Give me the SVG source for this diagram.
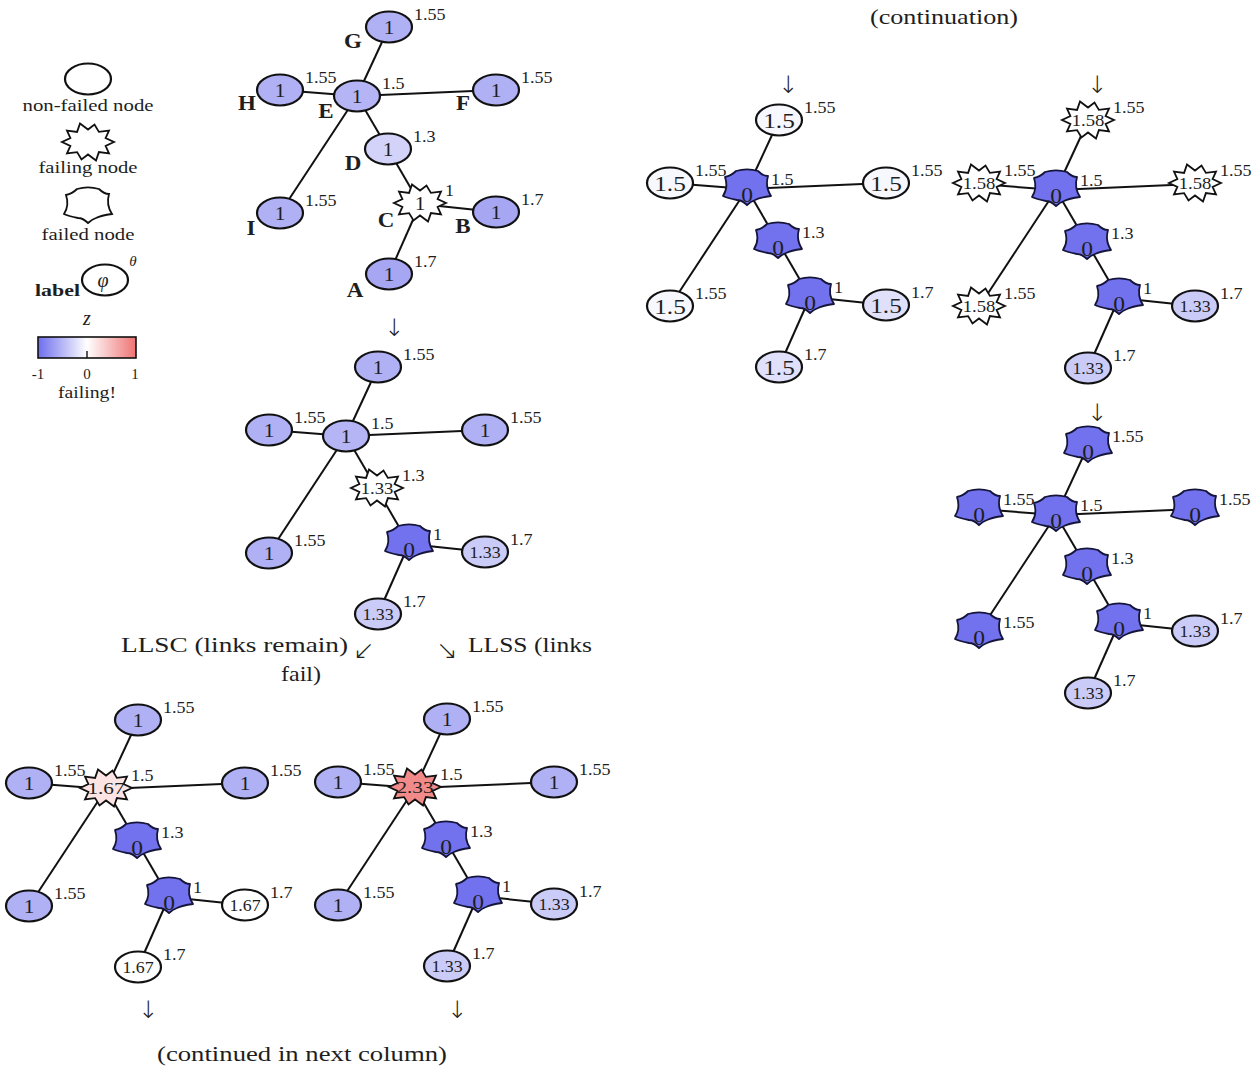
<svg xmlns="http://www.w3.org/2000/svg" xmlns:xlink="http://www.w3.org/1999/xlink" width="1260" height="1071" viewBox="0 0 1260 1071">
<style>
text { font-family: "Liberation Serif", "DejaVu Serif", serif; fill: #1e1e1e; }
.v, .v0, .v2, .v4, .vs { text-anchor: middle; transform-box: fill-box; transform-origin: 50% 50%; }
.v { font-size: 19px; transform: scaleX(1.12); }
.v0 { font-size: 21px; transform: scaleX(1.12); }
.v2 { font-size: 22px; transform: scaleX(1.15); }
.v4 { font-size: 17px; transform: scaleX(1.05); }
.vs { font-size: 17px; transform: scaleX(1.1); }
.vw { transform: scaleX(1.25); }
.t { font-size: 16px; transform-box: fill-box; transform-origin: 0 50%; transform: scaleX(1.13); }
.lb { font-size: 20px; font-weight: bold; text-anchor: middle; transform-box: fill-box; transform-origin: 50% 50%; transform: scaleX(1.15); }
.cap { font-size: 22px; }
.lg { font-size: 17px; text-anchor: middle; }
.arr { font-family: "DejaVu Sans", sans-serif; font-size: 24px; text-anchor: middle; font-weight: 200; fill: #222; }
.arr2 { font-family: "DejaVu Sans", sans-serif; font-size: 26px; font-weight: 200; fill: #222; }
.it { font-style: italic; }
.edges line { stroke: #111; stroke-width: 2; }
.nd { stroke: #111; stroke-width: 2.2; }
.sb { stroke: #111; stroke-width: 1.8; stroke-linejoin: miter; }
.fd { stroke: #15153a; stroke-width: 1.8; fill: #7272ee; stroke-linejoin: round; }
.w { fill: #ffffff; }
.f155 { fill: #b0b0f4; }
.f15 { fill: #b5b5f5; }
.f13 { fill: #d3d3f9; }
.f17 { fill: #a6a6f3; }
.f133 { fill: #cbcbf8; }
.f1517 { fill: #e0e0fb; }
.f15155 { fill: #f7f7fe; }
.fpink { fill: #fce4e4; }
.fred { fill: #f28a8a; }
</style>
<defs>
<ellipse id="ell" cx="0" cy="0" rx="23" ry="15.5"/>
<path id="star" d="M26,-1 L17.6,2.9 L21,10.5 L10.9,9.1 L8,17.5 L0,11.5 L-6.5,16.5 L-10.9,9.1 L-21,10.5 L-17.6,2.9 L-26,-1 L-17.6,-4.9 L-21,-12.5 L-10.9,-11.1 L-8,-19.5 L0,-13.5 L6.5,-18.5 L10.9,-11.1 L21,-12.5 L17.6,-4.9 Z"/>
<path id="fail" d="M-22,-12 C-17,-13 -14,-15 -11,-18 C-4,-20 4,-20 11,-18 C14,-15 17,-13 21,-13 C19,-6 20,1 24,7 C17,8 12,9 8,11 C5,12 2,14 0,16 C-3,13 -7,11 -10,11 C-15,10 -20,9 -24,7 C-20,1 -20,-6 -22,-12 Z"/>
<linearGradient id="cbar" x1="0" y1="0" x2="1" y2="0">
<stop offset="0" stop-color="#6e6eee"/>
<stop offset="0.5" stop-color="#ffffff"/>
<stop offset="1" stop-color="#ef7373"/>
</linearGradient>
</defs>
<rect x="0" y="0" width="1260" height="1071" fill="#ffffff"/>

<!-- legend -->
<g id="legend">
<g id="leg-nonfailed">
<ellipse cx="88" cy="79" rx="23" ry="15.5" class="nd w"/>
<text class="lg" x="88" y="111" textLength="131" lengthAdjust="spacingAndGlyphs">non-failed node</text>
</g>
<g id="leg-failing">
<use href="#star" x="88" y="143" class="sb w"/>
<text class="lg" x="88" y="173" textLength="99" lengthAdjust="spacingAndGlyphs">failing node</text>
</g>
<g id="leg-failed">
<use href="#fail" x="88" y="207" class="sb w"/>
<text class="lg" x="88" y="240" textLength="93" lengthAdjust="spacingAndGlyphs">failed node</text>
</g>
<g id="leg-label">
<ellipse cx="105" cy="280" rx="23" ry="15.5" class="nd w"/>
<text x="35" y="296" style="font-size:17px;font-weight:bold" textLength="45" lengthAdjust="spacingAndGlyphs">label</text>
<text class="it" x="103" y="287" style="font-size:20px" text-anchor="middle">φ</text>
<text class="it" x="133" y="266" style="font-size:15px" text-anchor="middle">θ</text>
</g>
<g id="leg-colorbar">
<text class="it" x="87" y="325" style="font-size:20px" text-anchor="middle">z</text>
<rect x="38" y="337" width="98" height="21" fill="url(#cbar)" stroke="#111" stroke-width="1.6"/>
<line x1="87" y1="351" x2="87" y2="358" stroke="#111" stroke-width="1.4"/>
<text x="38" y="379" style="font-size:15px" text-anchor="middle">-1</text>
<text x="87" y="379" style="font-size:15px" text-anchor="middle">0</text>
<text x="135" y="379" style="font-size:15px" text-anchor="middle">1</text>
<text class="lg" x="87" y="398" textLength="58" lengthAdjust="spacingAndGlyphs">failing!</text>
</g>
</g>

<!-- captions and arrows -->
<g id="captions">
<text class="cap" x="944" y="24" text-anchor="middle" textLength="148" lengthAdjust="spacingAndGlyphs">(continuation)</text>
<text class="cap" x="121" y="652" textLength="227" lengthAdjust="spacingAndGlyphs">LLSC (links remain)</text>
<text class="arr2" x="353" y="659">↙</text>
<text class="cap" x="301" y="681" text-anchor="middle" textLength="40" lengthAdjust="spacingAndGlyphs">fail)</text>
<text class="arr2" x="436" y="659">↘</text>
<text class="cap" x="468" y="652" textLength="124" lengthAdjust="spacingAndGlyphs">LLSS (links</text>
<text class="cap" x="157" y="1061" textLength="290" lengthAdjust="spacingAndGlyphs">(continued in next column)</text>
<text class="arr" x="394" y="336">↓</text>
<text class="arr" x="788" y="93">↓</text>
<text class="arr" x="1097" y="93">↓</text>
<text class="arr" x="1097" y="421">↓</text>
<text class="arr" x="148" y="1018">↓</text>
<text class="arr" x="457" y="1018">↓</text>
</g>

<!-- connectors -->
<g id="connectors" class="edges">
<g transform="translate(357,96)">
<line x1="0" y1="0" x2="32" y2="-69"/><line x1="0" y1="0" x2="-77" y2="-6"/><line x1="0" y1="0" x2="139" y2="-6"/><line x1="0" y1="0" x2="-77" y2="117"/><line x1="0" y1="0" x2="31" y2="53"/><line x1="31" y1="53" x2="63" y2="108"/><line x1="63" y1="108" x2="139" y2="116"/><line x1="63" y1="108" x2="32" y2="178"/>
</g>
<g transform="translate(346,436)">
<line x1="0" y1="0" x2="32" y2="-69"/><line x1="0" y1="0" x2="-77" y2="-6"/><line x1="0" y1="0" x2="139" y2="-6"/><line x1="0" y1="0" x2="-77" y2="117"/><line x1="0" y1="0" x2="31" y2="53"/><line x1="31" y1="53" x2="63" y2="108"/><line x1="63" y1="108" x2="139" y2="116"/><line x1="63" y1="108" x2="32" y2="178"/>
</g>
<g transform="translate(106,789)">
<line x1="0" y1="0" x2="32" y2="-69"/><line x1="0" y1="0" x2="-77" y2="-6"/><line x1="0" y1="0" x2="139" y2="-6"/><line x1="0" y1="0" x2="-77" y2="117"/><line x1="0" y1="0" x2="31" y2="53"/><line x1="31" y1="53" x2="63" y2="108"/><line x1="63" y1="108" x2="139" y2="116"/><line x1="63" y1="108" x2="32" y2="178"/>
</g>
<g transform="translate(415,788)">
<line x1="0" y1="0" x2="32" y2="-69"/><line x1="0" y1="0" x2="-77" y2="-6"/><line x1="0" y1="0" x2="139" y2="-6"/><line x1="0" y1="0" x2="-77" y2="117"/><line x1="0" y1="0" x2="31" y2="53"/><line x1="31" y1="53" x2="63" y2="108"/><line x1="63" y1="108" x2="139" y2="116"/><line x1="63" y1="108" x2="32" y2="178"/>
</g>
<g transform="translate(747,189)">
<line x1="0" y1="0" x2="32" y2="-69"/><line x1="0" y1="0" x2="-77" y2="-6"/><line x1="0" y1="0" x2="139" y2="-6"/><line x1="0" y1="0" x2="-77" y2="117"/><line x1="0" y1="0" x2="31" y2="53"/><line x1="31" y1="53" x2="63" y2="108"/><line x1="63" y1="108" x2="139" y2="116"/><line x1="63" y1="108" x2="32" y2="178"/>
</g>
<g transform="translate(1056,190)">
<line x1="0" y1="0" x2="32" y2="-69"/><line x1="0" y1="0" x2="-77" y2="-6"/><line x1="0" y1="0" x2="139" y2="-6"/><line x1="0" y1="0" x2="-77" y2="117"/><line x1="0" y1="0" x2="31" y2="53"/><line x1="31" y1="53" x2="63" y2="108"/><line x1="63" y1="108" x2="139" y2="116"/><line x1="63" y1="108" x2="32" y2="178"/>
</g>
<g transform="translate(1056,515)">
<line x1="0" y1="0" x2="32" y2="-69"/><line x1="0" y1="0" x2="-77" y2="-6"/><line x1="0" y1="0" x2="139" y2="-6"/><line x1="0" y1="0" x2="-77" y2="117"/><line x1="0" y1="0" x2="31" y2="53"/><line x1="31" y1="53" x2="63" y2="108"/><line x1="63" y1="108" x2="139" y2="116"/><line x1="63" y1="108" x2="32" y2="178"/>
</g>
</g>

<!-- graph 1 -->
<g id="graph1" transform="translate(357,96)">
<g id="g1-G" transform="translate(32,-69)"><use href="#ell" class="nd f155"/><text class="v" y="6.5">1</text><text class="t" x="25" y="-7">1.55</text><text class="lb" x="-36" y="21">G</text></g>
<g id="g1-H" transform="translate(-77,-6)"><use href="#ell" class="nd f155"/><text class="v" y="6.5">1</text><text class="t" x="25" y="-7">1.55</text><text class="lb" x="-33" y="20">H</text></g>
<g id="g1-E" transform="translate(0,0)"><use href="#ell" class="nd f15"/><text class="v" y="6.5">1</text><text class="t" x="25" y="-7">1.5</text><text class="lb" x="-31" y="22">E</text></g>
<g id="g1-F" transform="translate(139,-6)"><use href="#ell" class="nd f155"/><text class="v" y="6.5">1</text><text class="t" x="25" y="-7">1.55</text><text class="lb" x="-33" y="20">F</text></g>
<g id="g1-D" transform="translate(31,53)"><use href="#ell" class="nd f13"/><text class="v" y="6.5">1</text><text class="t" x="25" y="-7">1.3</text><text class="lb" x="-35" y="21">D</text></g>
<g id="g1-C" transform="translate(63,108)"><use href="#star" class="sb w"/><text class="v" y="5.5">1</text><text class="t" x="25" y="-8">1</text><text class="lb" x="-34" y="23">C</text></g>
<g id="g1-B" transform="translate(139,116)"><use href="#ell" class="nd f17"/><text class="v" y="6.5">1</text><text class="t" x="25" y="-7">1.7</text><text class="lb" x="-33" y="21">B</text></g>
<g id="g1-I" transform="translate(-77,117)"><use href="#ell" class="nd f155"/><text class="v" y="6.5">1</text><text class="t" x="25" y="-7">1.55</text><text class="lb" x="-29" y="22">I</text></g>
<g id="g1-A" transform="translate(32,178)"><use href="#ell" class="nd f17"/><text class="v" y="6.5">1</text><text class="t" x="25" y="-7">1.7</text><text class="lb" x="-34" y="23">A</text></g>
</g>

<!-- graph 2 -->
<g id="graph2" transform="translate(346,436)">
<g id="g2-G" transform="translate(32,-69)"><use href="#ell" class="nd f155"/><text class="v" y="6.5">1</text><text class="t" x="25" y="-7">1.55</text></g>
<g id="g2-H" transform="translate(-77,-6)"><use href="#ell" class="nd f155"/><text class="v" y="6.5">1</text><text class="t" x="25" y="-7">1.55</text></g>
<g id="g2-E" transform="translate(0,0)"><use href="#ell" class="nd f15"/><text class="v" y="6.5">1</text><text class="t" x="25" y="-7">1.5</text></g>
<g id="g2-F" transform="translate(139,-6)"><use href="#ell" class="nd f155"/><text class="v" y="6.5">1</text><text class="t" x="25" y="-7">1.55</text></g>
<g id="g2-D" transform="translate(31,53)"><use href="#star" class="sb w"/><text class="vs" y="5">1.33</text><text class="t" x="25" y="-8">1.3</text></g>
<g id="g2-C" transform="translate(63,108)"><use href="#fail" class="fd"/><text class="v0" y="13">0</text><text class="t" x="24" y="-4">1</text></g>
<g id="g2-B" transform="translate(139,116)"><use href="#ell" class="nd f133"/><text class="v4" y="6">1.33</text><text class="t" x="25" y="-7">1.7</text></g>
<g id="g2-I" transform="translate(-77,117)"><use href="#ell" class="nd f155"/><text class="v" y="6.5">1</text><text class="t" x="25" y="-7">1.55</text></g>
<g id="g2-A" transform="translate(32,178)"><use href="#ell" class="nd f133"/><text class="v4" y="6">1.33</text><text class="t" x="25" y="-7">1.7</text></g>
</g>

<!-- graph 3 (LLSC) -->
<g id="graph3" transform="translate(106,789)">
<g id="g3-G" transform="translate(32,-69)"><use href="#ell" class="nd f155"/><text class="v" y="6.5">1</text><text class="t" x="25" y="-7">1.55</text></g>
<g id="g3-H" transform="translate(-77,-6)"><use href="#ell" class="nd f155"/><text class="v" y="6.5">1</text><text class="t" x="25" y="-7">1.55</text></g>
<g id="g3-E" transform="translate(0,0)"><use href="#star" class="sb fpink"/><text class="vs vw" y="5">1.67</text><text class="t" x="25" y="-8">1.5</text></g>
<g id="g3-F" transform="translate(139,-6)"><use href="#ell" class="nd f155"/><text class="v" y="6.5">1</text><text class="t" x="25" y="-7">1.55</text></g>
<g id="g3-D" transform="translate(31,53)"><use href="#fail" class="fd"/><text class="v0" y="13">0</text><text class="t" x="24" y="-4">1.3</text></g>
<g id="g3-C" transform="translate(63,108)"><use href="#fail" class="fd"/><text class="v0" y="13">0</text><text class="t" x="24" y="-4">1</text></g>
<g id="g3-B" transform="translate(139,116)"><use href="#ell" class="nd w"/><text class="v4" y="6">1.67</text><text class="t" x="25" y="-7">1.7</text></g>
<g id="g3-I" transform="translate(-77,117)"><use href="#ell" class="nd f155"/><text class="v" y="6.5">1</text><text class="t" x="25" y="-7">1.55</text></g>
<g id="g3-A" transform="translate(32,178)"><use href="#ell" class="nd w"/><text class="v4" y="6">1.67</text><text class="t" x="25" y="-7">1.7</text></g>
</g>

<!-- graph 4 (LLSS) -->
<g id="graph4" transform="translate(415,788)">
<g id="g4-G" transform="translate(32,-69)"><use href="#ell" class="nd f155"/><text class="v" y="6.5">1</text><text class="t" x="25" y="-7">1.55</text></g>
<g id="g4-H" transform="translate(-77,-6)"><use href="#ell" class="nd f155"/><text class="v" y="6.5">1</text><text class="t" x="25" y="-7">1.55</text></g>
<g id="g4-E" transform="translate(0,0)"><use href="#star" class="sb fred"/><text class="vs vw" y="5">2.33</text><text class="t" x="25" y="-8">1.5</text></g>
<g id="g4-F" transform="translate(139,-6)"><use href="#ell" class="nd f155"/><text class="v" y="6.5">1</text><text class="t" x="25" y="-7">1.55</text></g>
<g id="g4-D" transform="translate(31,53)"><use href="#fail" class="fd"/><text class="v0" y="13">0</text><text class="t" x="24" y="-4">1.3</text></g>
<g id="g4-C" transform="translate(63,108)"><use href="#fail" class="fd"/><text class="v0" y="13">0</text><text class="t" x="24" y="-4">1</text></g>
<g id="g4-B" transform="translate(139,116)"><use href="#ell" class="nd f133"/><text class="v4" y="6">1.33</text><text class="t" x="25" y="-7">1.7</text></g>
<g id="g4-I" transform="translate(-77,117)"><use href="#ell" class="nd f155"/><text class="v" y="6.5">1</text><text class="t" x="25" y="-7">1.55</text></g>
<g id="g4-A" transform="translate(32,178)"><use href="#ell" class="nd f133"/><text class="v4" y="6">1.33</text><text class="t" x="25" y="-7">1.7</text></g>
</g>

<!-- graph 5 -->
<g id="graph5" transform="translate(747,189)">
<g id="g5-G" transform="translate(32,-69)"><use href="#ell" class="nd f15155"/><text class="v2" y="7.5">1.5</text><text class="t" x="25" y="-7">1.55</text></g>
<g id="g5-H" transform="translate(-77,-6)"><use href="#ell" class="nd f15155"/><text class="v2" y="7.5">1.5</text><text class="t" x="25" y="-7">1.55</text></g>
<g id="g5-E" transform="translate(0,0)"><use href="#fail" class="fd"/><text class="v0" y="13">0</text><text class="t" x="24" y="-4">1.5</text></g>
<g id="g5-F" transform="translate(139,-6)"><use href="#ell" class="nd f15155"/><text class="v2" y="7.5">1.5</text><text class="t" x="25" y="-7">1.55</text></g>
<g id="g5-D" transform="translate(31,53)"><use href="#fail" class="fd"/><text class="v0" y="13">0</text><text class="t" x="24" y="-4">1.3</text></g>
<g id="g5-C" transform="translate(63,108)"><use href="#fail" class="fd"/><text class="v0" y="13">0</text><text class="t" x="24" y="-4">1</text></g>
<g id="g5-B" transform="translate(139,116)"><use href="#ell" class="nd f1517"/><text class="v2" y="7.5">1.5</text><text class="t" x="25" y="-7">1.7</text></g>
<g id="g5-I" transform="translate(-77,117)"><use href="#ell" class="nd f15155"/><text class="v2" y="7.5">1.5</text><text class="t" x="25" y="-7">1.55</text></g>
<g id="g5-A" transform="translate(32,178)"><use href="#ell" class="nd f1517"/><text class="v2" y="7.5">1.5</text><text class="t" x="25" y="-7">1.7</text></g>
</g>

<!-- graph 6 -->
<g id="graph6" transform="translate(1056,190)">
<g id="g6-G" transform="translate(32,-69)"><use href="#star" class="sb w"/><text class="vs" y="5">1.58</text><text class="t" x="25" y="-8">1.55</text></g>
<g id="g6-H" transform="translate(-77,-6)"><use href="#star" class="sb w"/><text class="vs" y="5">1.58</text><text class="t" x="25" y="-8">1.55</text></g>
<g id="g6-E" transform="translate(0,0)"><use href="#fail" class="fd"/><text class="v0" y="13">0</text><text class="t" x="24" y="-4">1.5</text></g>
<g id="g6-F" transform="translate(139,-6)"><use href="#star" class="sb w"/><text class="vs" y="5">1.58</text><text class="t" x="25" y="-8">1.55</text></g>
<g id="g6-D" transform="translate(31,53)"><use href="#fail" class="fd"/><text class="v0" y="13">0</text><text class="t" x="24" y="-4">1.3</text></g>
<g id="g6-C" transform="translate(63,108)"><use href="#fail" class="fd"/><text class="v0" y="13">0</text><text class="t" x="24" y="-4">1</text></g>
<g id="g6-B" transform="translate(139,116)"><use href="#ell" class="nd f133"/><text class="v4" y="6">1.33</text><text class="t" x="25" y="-7">1.7</text></g>
<g id="g6-I" transform="translate(-77,117)"><use href="#star" class="sb w"/><text class="vs" y="5">1.58</text><text class="t" x="25" y="-8">1.55</text></g>
<g id="g6-A" transform="translate(32,178)"><use href="#ell" class="nd f133"/><text class="v4" y="6">1.33</text><text class="t" x="25" y="-7">1.7</text></g>
</g>

<!-- graph 7 -->
<g id="graph7" transform="translate(1056,515)">
<g id="g7-G" transform="translate(32,-69)"><use href="#fail" class="fd"/><text class="v0" y="13">0</text><text class="t" x="24" y="-4">1.55</text></g>
<g id="g7-H" transform="translate(-77,-6)"><use href="#fail" class="fd"/><text class="v0" y="13">0</text><text class="t" x="24" y="-4">1.55</text></g>
<g id="g7-E" transform="translate(0,0)"><use href="#fail" class="fd"/><text class="v0" y="13">0</text><text class="t" x="24" y="-4">1.5</text></g>
<g id="g7-F" transform="translate(139,-6)"><use href="#fail" class="fd"/><text class="v0" y="13">0</text><text class="t" x="24" y="-4">1.55</text></g>
<g id="g7-D" transform="translate(31,53)"><use href="#fail" class="fd"/><text class="v0" y="13">0</text><text class="t" x="24" y="-4">1.3</text></g>
<g id="g7-C" transform="translate(63,108)"><use href="#fail" class="fd"/><text class="v0" y="13">0</text><text class="t" x="24" y="-4">1</text></g>
<g id="g7-B" transform="translate(139,116)"><use href="#ell" class="nd f133"/><text class="v4" y="6">1.33</text><text class="t" x="25" y="-7">1.7</text></g>
<g id="g7-I" transform="translate(-77,117)"><use href="#fail" class="fd"/><text class="v0" y="13">0</text><text class="t" x="24" y="-4">1.55</text></g>
<g id="g7-A" transform="translate(32,178)"><use href="#ell" class="nd f133"/><text class="v4" y="6">1.33</text><text class="t" x="25" y="-7">1.7</text></g>
</g>
</svg>
